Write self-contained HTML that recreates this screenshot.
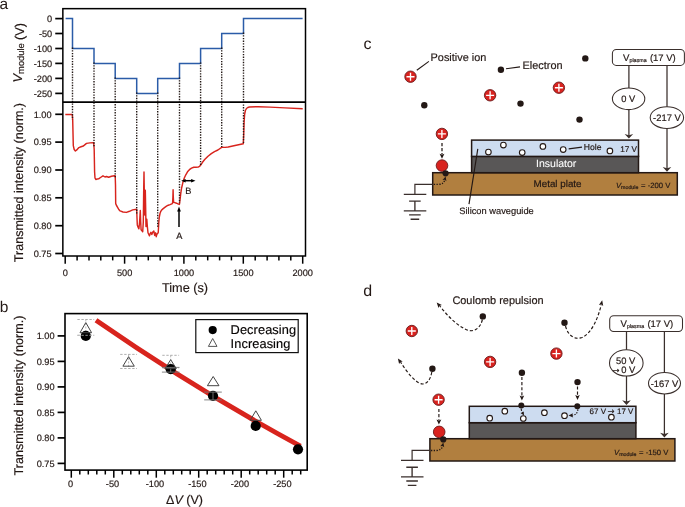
<!DOCTYPE html>
<html lang="en">
<head>
<meta charset="utf-8">
<title>Figure</title>
<style>
html,body{margin:0;padding:0;background:#fff;}
body{width:685px;height:507px;overflow:hidden;}
svg{display:block;font-family:"Liberation Sans",sans-serif;text-rendering:geometricPrecision;}
svg text{stroke:#231815;stroke-width:0.18px;}
svg text.lab{stroke:none;}
svg text.w{stroke:#fff;stroke-width:0.08px;}
</style>
</head>
<body>
<svg width="685" height="507" viewBox="0 0 685 507">
<rect width="685" height="507" fill="#fff"/>
<g id="panel-a">
<polyline fill="none" stroke="#2b5ca8" stroke-width="1.5" stroke-linejoin="miter" points="65.6,18.6 72.5,18.6 72.5,48.5 94.0,48.5 94.0,63.4 115.2,63.4 115.2,78.4 136.7,78.4 136.7,93.4 157.7,93.4 157.7,78.4 179.5,78.4 179.5,63.4 200.6,63.4 200.6,48.5 221.7,48.5 221.7,33.5 243.5,33.5 243.5,18.6 302.6,18.6"/>
<polyline fill="none" stroke="#d8241d" stroke-width="1.45" stroke-linejoin="round" stroke-linecap="butt" points="65.3,114.4 72.3,114.4 72.7,120.0 73.3,145.7 74.2,149.5 75.4,151.0 76.5,150.2 78.9,147.6 81.0,146.8 83.4,146.0 85.0,144.6 86.5,143.4 90.0,142.9 93.7,142.6 94.2,150.0 94.6,172.0 95.0,178.0 95.8,179.5 97.2,179.0 98.6,178.9 100.5,177.5 103.0,175.8 105.0,177.0 106.5,176.5 108.7,177.3 111.5,176.3 114.4,175.8 115.2,175.8 115.5,185.0 115.7,203.6 116.5,205.5 117.6,207.3 118.8,209.5 120.1,210.9 123.0,212.0 126.4,212.4 129.5,211.3 132.7,209.9 136.7,209.2 137.0,218.0 137.3,224.9 138.2,227.5 138.9,228.8 139.6,222.0 140.3,210.4 140.7,222.0 141.1,229.7 142.0,230.8 142.7,231.7 143.3,222.0 143.7,190.0 144.0,172.0 144.4,200.0 144.8,215.0 145.0,200.0 145.3,190.3 145.6,205.0 146.0,226.6 146.4,222.0 146.8,219.2 147.3,226.0 148.0,232.8 148.8,234.5 149.5,235.8 150.2,233.5 150.9,232.3 151.8,234.5 152.8,232.0 153.8,231.0 154.3,233.5 154.7,235.4 155.2,233.5 155.6,232.8 156.2,236.7 156.8,234.5 157.3,233.7 158.2,232.8 158.5,228.0 158.8,222.3 159.3,217.0 160.0,213.5 160.8,211.3 161.7,210.0 163.2,208.6 164.8,207.4 166.5,206.2 168.3,205.2 170.0,204.6 171.8,203.9 172.6,203.0 172.9,197.0 173.1,189.7 173.3,197.0 173.6,202.3 174.8,202.6 176.5,203.2 178.4,204.1 179.4,204.4 180.0,200.0 180.7,193.8 181.6,188.0 182.8,182.8 184.2,178.3 185.8,174.8 187.5,171.8 189.4,169.7 191.5,168.1 193.8,167.2 196.0,167.2 198.2,167.1 199.5,166.4 200.5,165.3 202.5,162.3 204.7,159.5 208.0,156.2 211.3,153.6 214.5,151.6 217.9,150.0 221.7,147.3 225.0,147.4 228.2,147.0 235.0,145.5 243.3,143.8 243.7,135.0 244.1,122.0 244.6,114.6 245.4,110.5 246.5,108.5 247.8,107.5 249.4,107.0 258.2,106.7 270.0,107.1 285.0,107.9 302.7,108.8"/>
<line x1="72.5" y1="47.6" x2="72.5" y2="119.8" stroke="#231815" stroke-width="1.4" stroke-dasharray="1.35 1.31"/>
<line x1="94.0" y1="62.5" x2="94.0" y2="146.3" stroke="#231815" stroke-width="1.4" stroke-dasharray="1.35 1.31"/>
<line x1="115.2" y1="77.5" x2="115.2" y2="177.7" stroke="#231815" stroke-width="1.4" stroke-dasharray="1.35 1.31"/>
<line x1="136.7" y1="92.5" x2="136.7" y2="214.4" stroke="#231815" stroke-width="1.4" stroke-dasharray="1.35 1.31"/>
<line x1="157.7" y1="92.5" x2="157.7" y2="228.0" stroke="#231815" stroke-width="1.4" stroke-dasharray="1.35 1.31"/>
<line x1="179.5" y1="77.5" x2="179.5" y2="203.3" stroke="#231815" stroke-width="1.4" stroke-dasharray="1.35 1.31"/>
<line x1="200.6" y1="62.5" x2="200.6" y2="166.0" stroke="#231815" stroke-width="1.4" stroke-dasharray="1.35 1.31"/>
<line x1="221.7" y1="47.6" x2="221.7" y2="147.0" stroke="#231815" stroke-width="1.4" stroke-dasharray="1.35 1.31"/>
<line x1="243.5" y1="32.6" x2="243.5" y2="143.8" stroke="#231815" stroke-width="1.4" stroke-dasharray="1.35 1.31"/>
<rect x="62.85" y="8.65" width="242.65" height="247.35" fill="none" stroke="#000" stroke-width="1.5"/>
<line x1="62.85" y1="102.1" x2="305.5" y2="102.1" stroke="#000" stroke-width="1.6"/>
<line x1="55.25" y1="18.6" x2="62.85" y2="18.6" stroke="#000" stroke-width="1.7"/>
<text x="52.2" y="21.9" font-size="9.2" text-anchor="end" fill="#231815">0</text>
<line x1="55.25" y1="33.5" x2="62.85" y2="33.5" stroke="#000" stroke-width="1.7"/>
<text x="52.2" y="36.8" font-size="9.2" text-anchor="end" fill="#231815">-50</text>
<line x1="55.25" y1="48.5" x2="62.85" y2="48.5" stroke="#000" stroke-width="1.7"/>
<text x="52.2" y="51.8" font-size="9.2" text-anchor="end" fill="#231815">-100</text>
<line x1="55.25" y1="63.4" x2="62.85" y2="63.4" stroke="#000" stroke-width="1.7"/>
<text x="52.2" y="66.7" font-size="9.2" text-anchor="end" fill="#231815">-150</text>
<line x1="55.25" y1="78.4" x2="62.85" y2="78.4" stroke="#000" stroke-width="1.7"/>
<text x="52.2" y="81.7" font-size="9.2" text-anchor="end" fill="#231815">-200</text>
<line x1="55.25" y1="93.4" x2="62.85" y2="93.4" stroke="#000" stroke-width="1.7"/>
<text x="52.2" y="96.7" font-size="9.2" text-anchor="end" fill="#231815">-250</text>
<line x1="55.25" y1="114.3" x2="62.85" y2="114.3" stroke="#000" stroke-width="1.7"/>
<text x="51.6" y="117.6" font-size="9.2" text-anchor="end" fill="#231815">1.00</text>
<line x1="55.25" y1="142.1" x2="62.85" y2="142.1" stroke="#000" stroke-width="1.7"/>
<text x="51.6" y="145.4" font-size="9.2" text-anchor="end" fill="#231815">0.95</text>
<line x1="55.25" y1="170.0" x2="62.85" y2="170.0" stroke="#000" stroke-width="1.7"/>
<text x="51.6" y="173.3" font-size="9.2" text-anchor="end" fill="#231815">0.90</text>
<line x1="55.25" y1="197.8" x2="62.85" y2="197.8" stroke="#000" stroke-width="1.7"/>
<text x="51.6" y="201.1" font-size="9.2" text-anchor="end" fill="#231815">0.85</text>
<line x1="55.25" y1="225.7" x2="62.85" y2="225.7" stroke="#000" stroke-width="1.7"/>
<text x="51.6" y="229.0" font-size="9.2" text-anchor="end" fill="#231815">0.80</text>
<line x1="55.25" y1="253.5" x2="62.85" y2="253.5" stroke="#000" stroke-width="1.7"/>
<text x="51.6" y="256.8" font-size="9.2" text-anchor="end" fill="#231815">0.75</text>
<line x1="65.2" y1="256.0" x2="65.2" y2="263.7" stroke="#000" stroke-width="1.5"/>
<text x="65.2" y="276.2" font-size="9.2" text-anchor="middle" fill="#231815">0</text>
<line x1="77.1" y1="256.0" x2="77.1" y2="260.4" stroke="#000" stroke-width="1.5"/>
<line x1="89.0" y1="256.0" x2="89.0" y2="260.4" stroke="#000" stroke-width="1.5"/>
<line x1="100.8" y1="256.0" x2="100.8" y2="260.4" stroke="#000" stroke-width="1.5"/>
<line x1="112.7" y1="256.0" x2="112.7" y2="260.4" stroke="#000" stroke-width="1.5"/>
<line x1="124.6" y1="256.0" x2="124.6" y2="263.7" stroke="#000" stroke-width="1.5"/>
<text x="124.6" y="276.2" font-size="9.2" text-anchor="middle" fill="#231815">500</text>
<line x1="136.4" y1="256.0" x2="136.4" y2="260.4" stroke="#000" stroke-width="1.5"/>
<line x1="148.3" y1="256.0" x2="148.3" y2="260.4" stroke="#000" stroke-width="1.5"/>
<line x1="160.2" y1="256.0" x2="160.2" y2="260.4" stroke="#000" stroke-width="1.5"/>
<line x1="172.1" y1="256.0" x2="172.1" y2="260.4" stroke="#000" stroke-width="1.5"/>
<line x1="183.9" y1="256.0" x2="183.9" y2="263.7" stroke="#000" stroke-width="1.5"/>
<text x="183.9" y="276.2" font-size="9.2" text-anchor="middle" fill="#231815">1000</text>
<line x1="195.8" y1="256.0" x2="195.8" y2="260.4" stroke="#000" stroke-width="1.5"/>
<line x1="207.7" y1="256.0" x2="207.7" y2="260.4" stroke="#000" stroke-width="1.5"/>
<line x1="219.6" y1="256.0" x2="219.6" y2="260.4" stroke="#000" stroke-width="1.5"/>
<line x1="231.4" y1="256.0" x2="231.4" y2="260.4" stroke="#000" stroke-width="1.5"/>
<line x1="243.3" y1="256.0" x2="243.3" y2="263.7" stroke="#000" stroke-width="1.5"/>
<text x="243.3" y="276.2" font-size="9.2" text-anchor="middle" fill="#231815">1500</text>
<line x1="255.2" y1="256.0" x2="255.2" y2="260.4" stroke="#000" stroke-width="1.5"/>
<line x1="267.1" y1="256.0" x2="267.1" y2="260.4" stroke="#000" stroke-width="1.5"/>
<line x1="278.9" y1="256.0" x2="278.9" y2="260.4" stroke="#000" stroke-width="1.5"/>
<line x1="290.8" y1="256.0" x2="290.8" y2="260.4" stroke="#000" stroke-width="1.5"/>
<line x1="302.7" y1="256.0" x2="302.7" y2="263.7" stroke="#000" stroke-width="1.5"/>
<text x="302.7" y="276.2" font-size="9.2" text-anchor="middle" fill="#231815">2000</text>
<text x="185.0" y="292.3" font-size="12.7" text-anchor="middle" fill="#231815">Time (s)</text>
<g transform="translate(22.1,52.75) rotate(-90)"><text x="-29.72" y="0.00" font-size="12.8" font-style="italic" fill="#231815">V</text><text x="-21.18" y="2.00" font-size="9.4" fill="#231815">module</text><text x="12.65" y="1.60" font-size="12.8" fill="#231815">(V)</text></g>
<text transform="translate(22.5,182.6) rotate(-90)" font-size="12.55" text-anchor="middle" fill="#231815">Transmitted intensity (norm.)</text>
<line x1="179.0" y1="210" x2="179.0" y2="227.1" stroke="#000" stroke-width="1.5"/>
<polygon points="179.0,206.6 177.1,211.6 180.9,211.6" fill="#000"/>
<text x="179.4" y="238.9" font-size="9.2" text-anchor="middle" fill="#231815">A</text>
<line x1="184" y1="180.7" x2="192.6" y2="180.7" stroke="#000" stroke-width="1.5"/>
<polygon points="181.2,180.7 185.6,178.9 185.6,182.5" fill="#000"/>
<polygon points="195.5,180.7 191.1,178.9 191.1,182.5" fill="#000"/>
<text x="188.3" y="193.5" font-size="9.2" text-anchor="middle" fill="#231815">B</text>
<text class="lab" x="-0.6" y="8.8" font-size="15.5" fill="#231815">a</text>
</g>
<g id="panel-b">
<path d="M96,320.3 Q198.25,391.1 300.5,446.15" fill="none" stroke="#d8241d" stroke-width="4.9"/>
<line x1="77.39999999999999" y1="319.5" x2="94.2" y2="319.5" stroke="#9a9a9a" stroke-width="0.8" stroke-dasharray="2.4 1.6"/><line x1="77.39999999999999" y1="335.3" x2="94.2" y2="335.3" stroke="#9a9a9a" stroke-width="0.8" stroke-dasharray="2.4 1.6"/><line x1="85.8" y1="319.5" x2="85.8" y2="335.3" stroke="#9a9a9a" stroke-width="0.7" stroke-dasharray="2 1.5"/>
<line x1="120.19999999999999" y1="354.4" x2="137.0" y2="354.4" stroke="#9a9a9a" stroke-width="0.8" stroke-dasharray="2.4 1.6"/><line x1="120.19999999999999" y1="368.5" x2="137.0" y2="368.5" stroke="#9a9a9a" stroke-width="0.8" stroke-dasharray="2.4 1.6"/><line x1="128.6" y1="354.4" x2="128.6" y2="368.5" stroke="#9a9a9a" stroke-width="0.7" stroke-dasharray="2 1.5"/>
<line x1="162.29999999999998" y1="355.3" x2="179.1" y2="355.3" stroke="#9a9a9a" stroke-width="0.8" stroke-dasharray="2.4 1.6"/><line x1="162.29999999999998" y1="368.0" x2="179.1" y2="368.0" stroke="#9a9a9a" stroke-width="0.8" stroke-dasharray="2.4 1.6"/><line x1="170.7" y1="355.3" x2="170.7" y2="368.0" stroke="#9a9a9a" stroke-width="0.7" stroke-dasharray="2 1.5"/>
<circle cx="85.8" cy="335.9" r="5.1" fill="#000"/>
<circle cx="170.7" cy="369.2" r="5.1" fill="#000"/>
<circle cx="213.0" cy="395.8" r="5.1" fill="#000"/>
<circle cx="255.7" cy="425.9" r="5.1" fill="#000"/>
<circle cx="298.0" cy="449.3" r="5.1" fill="#000"/>
<line x1="161.89999999999998" y1="367.4" x2="179.5" y2="367.4" stroke="#777" stroke-width="0.9"/><line x1="161.89999999999998" y1="372.1" x2="179.5" y2="372.1" stroke="#777" stroke-width="0.9"/><line x1="170.7" y1="367.4" x2="170.7" y2="372.1" stroke="#777" stroke-width="0.9"/>
<line x1="204.2" y1="392.1" x2="221.8" y2="392.1" stroke="#777" stroke-width="0.9"/><line x1="204.2" y1="399.9" x2="221.8" y2="399.9" stroke="#777" stroke-width="0.9"/><line x1="213.0" y1="392.1" x2="213.0" y2="399.9" stroke="#777" stroke-width="0.9"/>
<line x1="77.4" y1="335.3" x2="94.2" y2="335.3" stroke="#bbb" stroke-width="0.8" stroke-dasharray="2.4 1.6"/>
<polygon points="85.8,322.6 80.0,332.7 91.6,332.7" fill="none" stroke="#444" stroke-width="1"/>
<polygon points="128.6,356.7 122.89999999999999,366.2 134.29999999999998,366.2" fill="none" stroke="#444" stroke-width="1"/>
<polygon points="170.7,359.7 165.1,368.6 176.29999999999998,368.6" fill="none" stroke="#444" stroke-width="1"/>
<polygon points="213.2,376.5 207.39999999999998,385.7 219.0,385.7" fill="none" stroke="#444" stroke-width="1"/>
<polygon points="255.8,410.8 250.20000000000002,420.3 261.40000000000003,420.3" fill="none" stroke="#444" stroke-width="1"/>
<rect x="65.0" y="313.6" width="242.2" height="156.5" fill="none" stroke="#000" stroke-width="1.6"/>
<line x1="57.6" y1="335.9" x2="65.0" y2="335.9" stroke="#000" stroke-width="1.7"/>
<text x="54.6" y="339.2" font-size="9.2" text-anchor="end" fill="#231815">1.00</text>
<line x1="57.6" y1="361.4" x2="65.0" y2="361.4" stroke="#000" stroke-width="1.7"/>
<text x="54.6" y="364.7" font-size="9.2" text-anchor="end" fill="#231815">0.95</text>
<line x1="57.6" y1="386.9" x2="65.0" y2="386.9" stroke="#000" stroke-width="1.7"/>
<text x="54.6" y="390.2" font-size="9.2" text-anchor="end" fill="#231815">0.90</text>
<line x1="57.6" y1="412.4" x2="65.0" y2="412.4" stroke="#000" stroke-width="1.7"/>
<text x="54.6" y="415.7" font-size="9.2" text-anchor="end" fill="#231815">0.85</text>
<line x1="57.6" y1="437.9" x2="65.0" y2="437.9" stroke="#000" stroke-width="1.7"/>
<text x="54.6" y="441.2" font-size="9.2" text-anchor="end" fill="#231815">0.80</text>
<line x1="57.6" y1="463.4" x2="65.0" y2="463.4" stroke="#000" stroke-width="1.7"/>
<text x="54.6" y="466.7" font-size="9.2" text-anchor="end" fill="#231815">0.75</text>
<line x1="71.3" y1="470.1" x2="71.3" y2="477.70000000000005" stroke="#000" stroke-width="1.5"/>
<text x="70.5" y="487.3" font-size="9.2" text-anchor="middle" fill="#231815">0</text>
<line x1="79.8" y1="470.1" x2="79.8" y2="474.5" stroke="#000" stroke-width="1.5"/>
<line x1="88.3" y1="470.1" x2="88.3" y2="474.5" stroke="#000" stroke-width="1.5"/>
<line x1="96.8" y1="470.1" x2="96.8" y2="474.5" stroke="#000" stroke-width="1.5"/>
<line x1="105.3" y1="470.1" x2="105.3" y2="474.5" stroke="#000" stroke-width="1.5"/>
<line x1="113.8" y1="470.1" x2="113.8" y2="477.70000000000005" stroke="#000" stroke-width="1.5"/>
<text x="112.5" y="487.3" font-size="9.2" text-anchor="middle" fill="#231815">-50</text>
<line x1="122.3" y1="470.1" x2="122.3" y2="474.5" stroke="#000" stroke-width="1.5"/>
<line x1="130.8" y1="470.1" x2="130.8" y2="474.5" stroke="#000" stroke-width="1.5"/>
<line x1="139.3" y1="470.1" x2="139.3" y2="474.5" stroke="#000" stroke-width="1.5"/>
<line x1="147.8" y1="470.1" x2="147.8" y2="474.5" stroke="#000" stroke-width="1.5"/>
<line x1="156.3" y1="470.1" x2="156.3" y2="477.70000000000005" stroke="#000" stroke-width="1.5"/>
<text x="155.0" y="487.3" font-size="9.2" text-anchor="middle" fill="#231815">-100</text>
<line x1="164.8" y1="470.1" x2="164.8" y2="474.5" stroke="#000" stroke-width="1.5"/>
<line x1="173.3" y1="470.1" x2="173.3" y2="474.5" stroke="#000" stroke-width="1.5"/>
<line x1="181.7" y1="470.1" x2="181.7" y2="474.5" stroke="#000" stroke-width="1.5"/>
<line x1="190.2" y1="470.1" x2="190.2" y2="474.5" stroke="#000" stroke-width="1.5"/>
<line x1="198.7" y1="470.1" x2="198.7" y2="477.70000000000005" stroke="#000" stroke-width="1.5"/>
<text x="197.4" y="487.3" font-size="9.2" text-anchor="middle" fill="#231815">-150</text>
<line x1="207.2" y1="470.1" x2="207.2" y2="474.5" stroke="#000" stroke-width="1.5"/>
<line x1="215.7" y1="470.1" x2="215.7" y2="474.5" stroke="#000" stroke-width="1.5"/>
<line x1="224.2" y1="470.1" x2="224.2" y2="474.5" stroke="#000" stroke-width="1.5"/>
<line x1="232.7" y1="470.1" x2="232.7" y2="474.5" stroke="#000" stroke-width="1.5"/>
<line x1="241.2" y1="470.1" x2="241.2" y2="477.70000000000005" stroke="#000" stroke-width="1.5"/>
<text x="239.9" y="487.3" font-size="9.2" text-anchor="middle" fill="#231815">-200</text>
<line x1="249.7" y1="470.1" x2="249.7" y2="474.5" stroke="#000" stroke-width="1.5"/>
<line x1="258.2" y1="470.1" x2="258.2" y2="474.5" stroke="#000" stroke-width="1.5"/>
<line x1="266.7" y1="470.1" x2="266.7" y2="474.5" stroke="#000" stroke-width="1.5"/>
<line x1="275.2" y1="470.1" x2="275.2" y2="474.5" stroke="#000" stroke-width="1.5"/>
<line x1="283.7" y1="470.1" x2="283.7" y2="477.70000000000005" stroke="#000" stroke-width="1.5"/>
<text x="282.4" y="487.3" font-size="9.2" text-anchor="middle" fill="#231815">-250</text>
<line x1="292.2" y1="470.1" x2="292.2" y2="474.5" stroke="#000" stroke-width="1.5"/>
<line x1="300.7" y1="470.1" x2="300.7" y2="474.5" stroke="#000" stroke-width="1.5"/>
<text x="184.5" y="504.3" font-size="12.5" text-anchor="middle" fill="#231815">Δ<tspan font-style="italic">V</tspan> (V)</text>
<text transform="translate(22.6,395.5) rotate(-90)" font-size="12.6" text-anchor="middle" fill="#231815">Transmitted intensity (norm.)</text>
<rect x="195.8" y="319.6" width="102.4" height="33" fill="#fff" stroke="#111" stroke-width="1.2"/>
<circle cx="212.7" cy="330.1" r="4.1" fill="#000"/>
<polygon points="212.7,338.5 208.4,346.4 217.0,346.4" fill="none" stroke="#444" stroke-width="0.9"/>
<text x="230.6" y="334.2" font-size="12.8" fill="#000" stroke="#000" stroke-width="0.25" letter-spacing="0.08">Decreasing</text>
<text x="230.6" y="347.9" font-size="12.8" fill="#000" stroke="#000" stroke-width="0.25" letter-spacing="0.08">Increasing</text>
<text class="lab" x="-0.2" y="311.6" font-size="15.5" fill="#231815">b</text>
</g>
<g id="panel-c">
<text class="lab" x="363.5" y="48.8" font-size="16" fill="#231815">c</text>
<text x="430.6" y="60.6" font-size="10.9" fill="#231815">Positive ion</text>
<line x1="428.9" y1="61.4" x2="416.8" y2="70.2" stroke="#231815" stroke-width="1.1"/>
<text x="522.6" y="69.4" font-size="10.9" fill="#231815">Electron</text>
<line x1="506" y1="68.8" x2="520" y2="66.9" stroke="#231815" stroke-width="1.1"/>
<circle cx="410.5" cy="76.7" r="5.7" fill="#d9231f" stroke="#6b1a1b" stroke-width="0.9"/><path d="M406.5,76.7H414.5M410.5,72.7V80.7" stroke="#fff" stroke-width="1.35" fill="none"/>
<circle cx="490.1" cy="95.3" r="5.7" fill="#d9231f" stroke="#6b1a1b" stroke-width="0.9"/><path d="M486.1,95.3H494.1M490.1,91.3V99.3" stroke="#fff" stroke-width="1.35" fill="none"/>
<circle cx="441.9" cy="133.9" r="5.7" fill="#d9231f" stroke="#6b1a1b" stroke-width="0.9"/><path d="M437.9,133.9H445.9M441.9,129.9V137.9" stroke="#fff" stroke-width="1.35" fill="none"/>
<circle cx="558.9" cy="87.7" r="5.7" fill="#d9231f" stroke="#6b1a1b" stroke-width="0.9"/><path d="M554.9,87.7H562.9M558.9,83.7V91.7" stroke="#fff" stroke-width="1.35" fill="none"/>
<circle cx="424.3" cy="105.3" r="3.2" fill="#231815"/>
<circle cx="500.9" cy="69.7" r="3.2" fill="#231815"/>
<circle cx="585.3" cy="58.4" r="3.2" fill="#231815"/>
<circle cx="520.5" cy="103.6" r="3.2" fill="#231815"/>
<circle cx="579.5" cy="119.6" r="3.2" fill="#231815"/>
<path d="M628.9,65 V136.5 M667.0,65 V169.5" stroke="#3a2f2c" stroke-width="1.25" fill="none"/>
<rect x="612.4" y="49.5" width="72.0" height="15.9" rx="4" fill="#fff" stroke="#3a2f2c" stroke-width="1.05"/>
<text x="623.10" y="61.20" font-size="9.6" fill="#231815">V</text><text x="629.50" y="62.40" font-size="5.3" fill="#231815">plasma</text><text x="649.89" y="61.20" font-size="9.5" fill="#231815">(17 V)</text>
<ellipse cx="628.6" cy="98.8" rx="16.2" ry="10.8" fill="#fff" stroke="#3a2f2c" stroke-width="1.05"/>
<text x="628.2" y="102.2" font-size="9.3" text-anchor="middle" fill="#231815">0 V</text>
<ellipse cx="666.9" cy="117.6" rx="16.7" ry="10.9" fill="#fff" stroke="#3a2f2c" stroke-width="1.05"/>
<text x="666.9" y="121.1" font-size="9.4" text-anchor="middle" fill="#231815">-217 V</text>
<polygon points="628.9,138.6 624.6,134.0 628.9,135.3 633.2,134.0" fill="#3a2f2c"/>
<polygon points="667.0,171.7 662.7,166.9 667.0,168.2 671.3,166.9" fill="#3a2f2c"/>
<rect x="432.7" y="172.7" width="244.6" height="22.3" fill="#b17f3f" stroke="#231815" stroke-width="1.5"/>
<rect x="471.6" y="156.4" width="166.9" height="16.3" fill="#595757" stroke="#231815" stroke-width="1.5"/>
<rect x="471.6" y="140.1" width="166.9" height="16.3" fill="#cddcf0" stroke="#231815" stroke-width="1.5"/>
<circle cx="503.4" cy="145.1" r="2.8" fill="#fff" stroke="#231815" stroke-width="1.1"/>
<circle cx="488.4" cy="152.1" r="2.8" fill="#fff" stroke="#231815" stroke-width="1.1"/>
<circle cx="522.2" cy="152.6" r="2.8" fill="#fff" stroke="#231815" stroke-width="1.1"/>
<circle cx="542.9" cy="146.4" r="2.8" fill="#fff" stroke="#231815" stroke-width="1.1"/>
<circle cx="563.2" cy="149.6" r="2.8" fill="#fff" stroke="#231815" stroke-width="1.1"/>
<circle cx="609.9" cy="150.9" r="2.8" fill="#fff" stroke="#231815" stroke-width="1.1"/>
<line x1="568.7" y1="148.9" x2="582" y2="147.1" stroke="#231815" stroke-width="1.1"/>
<text x="583.8" y="149.7" font-size="8.6" fill="#231815">Hole</text>
<text x="620.2" y="151.8" font-size="8.2" fill="#231815">17 V</text>
<text class="w" x="536.1" y="167.3" font-size="10.5" fill="#fff">Insulator</text>
<text x="533.6" y="187.2" font-size="9.8" fill="#231815">Metal plate</text>
<text x="615.90" y="187.60" font-size="7.7" font-style="italic" fill="#231815">V</text><text x="621.04" y="188.90" font-size="5.3" fill="#231815">module</text><text x="641.02" y="187.60" font-size="7.7" fill="#231815">= -200 V</text>
<line x1="477.8" y1="148.9" x2="469" y2="204.1" stroke="#231815" stroke-width="1.15"/>
<text x="459.3" y="214.0" font-size="9.3" fill="#231815">Silicon waveguide</text>
<line x1="442" y1="143.1" x2="442" y2="154.5" stroke="#231815" stroke-width="1.25" stroke-dasharray="3.2 1.8"/>
<polygon points="442.0,158.8 439.6,153.8 442.0,154.8 444.4,153.8" fill="#231815"/>
<circle cx="442" cy="165.6" r="5.8" fill="#d9231f" stroke="#6b1a1b" stroke-width="0.9"/>
<path d="M433.8,184.3 H438.5 Q443.8,184.3 444.7,180.0" fill="none" stroke="#231815" stroke-width="1.3" stroke-dasharray="1.3 1.4"/>
<polygon points="445.6,176.4 446.4,181.2 444.7,179.8 442.5,180.1" fill="#231815"/>
<circle cx="445.6" cy="173.3" r="3.1" fill="#231815"/>
<path d="M432.7,184.3H414.9V194.3" fill="none" stroke="#3a2f2c" stroke-width="1.2"/><path d="M403.79999999999995,194.3H426.29999999999995M409.09999999999997,201.10000000000002H420.7M414.9,201.10000000000002V210.8M403.79999999999995,210.8H426.29999999999995M409.09999999999997,214.9H420.7M410.59999999999997,219.20000000000002H419.2" fill="none" stroke="#3a2f2c" stroke-width="1.35"/>
</g>
<g id="panel-d">
<text class="lab" x="363.2" y="295.7" font-size="16" fill="#231815">d</text>
<text x="452.4" y="303.9" font-size="10.95" fill="#231815">Coulomb repulsion</text>
<circle cx="411.8" cy="331.0" r="5.7" fill="#d9231f" stroke="#6b1a1b" stroke-width="0.9"/><path d="M407.8,331.0H415.8M411.8,327.0V335.0" stroke="#fff" stroke-width="1.35" fill="none"/>
<circle cx="490.1" cy="361.9" r="5.7" fill="#d9231f" stroke="#6b1a1b" stroke-width="0.9"/><path d="M486.1,361.9H494.1M490.1,357.9V365.9" stroke="#fff" stroke-width="1.35" fill="none"/>
<circle cx="556.4" cy="353.6" r="5.7" fill="#d9231f" stroke="#6b1a1b" stroke-width="0.9"/><path d="M552.4,353.6H560.4M556.4,349.6V357.6" stroke="#fff" stroke-width="1.35" fill="none"/>
<circle cx="438.6" cy="399.7" r="5.7" fill="#d9231f" stroke="#6b1a1b" stroke-width="0.9"/><path d="M434.6,399.7H442.6M438.6,395.7V403.7" stroke="#fff" stroke-width="1.35" fill="none"/>
<circle cx="482.8" cy="316.4" r="3.2" fill="#231815"/>
<circle cx="432.4" cy="368.7" r="3.2" fill="#231815"/>
<circle cx="564.5" cy="322.7" r="3.2" fill="#231815"/>
<circle cx="521.9" cy="372.7" r="3.2" fill="#231815"/>
<circle cx="577.5" cy="382.1" r="3.2" fill="#231815"/>
<path d="M482.4,319.5 C480,330 472,333 465,329 C455,324 446,314 439.5,305.5" fill="none" stroke="#231815" stroke-width="1.15" stroke-dasharray="3.1 2.0"/>
<polygon points="436.7,302.4 441.9,305.1 439.5,305.7 438.5,308.0" fill="#231815"/>
<path d="M431.8,372 C430,382 425,386 419,383 C411,378 405,369 400.5,362" fill="none" stroke="#231815" stroke-width="1.15" stroke-dasharray="3.1 2.0"/>
<polygon points="397.9,358.4 402.7,361.6 400.3,362.0 399.1,364.1" fill="#231815"/>
<path d="M565.5,326 C568,336 575,340 582,337.5 C592,333 598,318 601.2,305" fill="none" stroke="#231815" stroke-width="1.15" stroke-dasharray="3.1 2.0"/>
<polygon points="602.2,300.2 603.2,305.9 601.3,304.4 598.9,305.0" fill="#231815"/>
<path d="M626.5,331 V403 M664.4,331 V435.5" stroke="#3a2f2c" stroke-width="1.25" fill="none"/>
<rect x="609.7" y="315.7" width="72.8" height="15.8" rx="4" fill="#fff" stroke="#3a2f2c" stroke-width="1.05"/>
<text x="620.60" y="327.10" font-size="9.6" fill="#231815">V</text><text x="627.00" y="328.30" font-size="5.3" fill="#231815">plasma</text><text x="647.39" y="327.10" font-size="9.5" fill="#231815">(17 V)</text>
<ellipse cx="626.3" cy="362.9" rx="16.8" ry="13.2" fill="#fff" stroke="#3a2f2c" stroke-width="1.05"/>
<text x="625.7" y="363.6" font-size="9.4" text-anchor="middle" fill="#231815">50 V</text>
<text x="612.8" y="373.0" font-size="9.4" fill="#231815"><tspan font-size="8" font-family="DejaVu Sans, Liberation Sans, sans-serif">→</tspan><tspan x="621.3">0 V</tspan></text>
<ellipse cx="664.5" cy="383.2" rx="16" ry="10.7" fill="#fff" stroke="#3a2f2c" stroke-width="1.05"/>
<text x="664.5" y="386.7" font-size="9.4" text-anchor="middle" fill="#231815">-167 V</text>
<polygon points="626.5,405.0 622.2,400.3 626.5,401.6 630.8,400.3" fill="#3a2f2c"/>
<polygon points="664.4,437.6 660.1,432.8 664.4,434.1 668.7,432.8" fill="#3a2f2c"/>
<rect x="429.9" y="438.7" width="245.0" height="22.3" fill="#b17f3f" stroke="#231815" stroke-width="1.5"/>
<rect x="469.3" y="422.7" width="166.6" height="16" fill="#595757" stroke="#231815" stroke-width="1.5"/>
<rect x="469.3" y="406.3" width="166.6" height="16.4" fill="#cddcf0" stroke="#231815" stroke-width="1.5"/>
<circle cx="504.8" cy="411.2" r="2.8" fill="#fff" stroke="#231815" stroke-width="1.1"/>
<circle cx="489.7" cy="418.2" r="2.8" fill="#fff" stroke="#231815" stroke-width="1.1"/>
<circle cx="523.3" cy="418.5" r="2.8" fill="#fff" stroke="#231815" stroke-width="1.1"/>
<circle cx="544.4" cy="412.7" r="2.8" fill="#fff" stroke="#231815" stroke-width="1.1"/>
<circle cx="564.5" cy="415.7" r="2.8" fill="#fff" stroke="#231815" stroke-width="1.1"/>
<circle cx="611.4" cy="417.2" r="2.8" fill="#fff" stroke="#231815" stroke-width="1.1"/>
<text x="589.6" y="413.9" font-size="8.0" fill="#231815">67 V <tspan x="607.4" font-size="8.4" font-family="DejaVu Sans, Liberation Sans, sans-serif">→</tspan><tspan x="617.0" font-size="7.9">17 V</tspan></text>
<text x="614.00" y="454.80" font-size="7.7" font-style="italic" fill="#231815">V</text><text x="619.14" y="456.10" font-size="5.3" fill="#231815">module</text><text x="639.12" y="454.80" font-size="7.7" fill="#231815">= -150 V</text>
<line x1="521.9" y1="377" x2="521.9" y2="396" stroke="#231815" stroke-width="1.15" stroke-dasharray="3.1 2.0"/>
<polygon points="521.9,400.6 519.6,395.6 521.9,396.6 524.2,395.6" fill="#231815"/>
<line x1="577.5" y1="386.5" x2="577.5" y2="395.5" stroke="#231815" stroke-width="1.15" stroke-dasharray="3.1 2.0"/>
<polygon points="577.5,400.1 575.2,395.1 577.5,396.1 579.8,395.1" fill="#231815"/>
<circle cx="521.3" cy="405.4" r="3.0" fill="#231815"/>
<circle cx="577.3" cy="406.2" r="3.0" fill="#231815"/>
<path d="M521.2,408.6 Q521.4,411.6 522.9,413.2" fill="none" stroke="#231815" stroke-width="1.1" stroke-dasharray="2 1.2"/>
<polygon points="524.0,415.6 520.5,412.9 522.5,412.8 523.7,411.2" fill="#231815"/>
<path d="M577.9,409.4 Q577.4,414.8 572.2,415.3" fill="none" stroke="#231815" stroke-width="1.2" stroke-dasharray="1.4 1.3"/>
<polygon points="568.5,415.6 572.9,413.2 572.2,415.3 573.2,417.4" fill="#231815"/>
<line x1="438.9" y1="409" x2="438.9" y2="420" stroke="#231815" stroke-width="1.15" stroke-dasharray="3.1 2.0"/>
<polygon points="438.9,424.6 436.5,419.6 438.9,420.6 441.3,419.6" fill="#231815"/>
<circle cx="439.2" cy="431.9" r="5.8" fill="#d9231f" stroke="#6b1a1b" stroke-width="0.9"/>
<path d="M431,450.5 H436 Q441.6,450.4 442.6,446.0" fill="none" stroke="#231815" stroke-width="1.3" stroke-dasharray="1.3 1.4"/>
<polygon points="443.4,442.5 444.2,447.3 442.5,445.9 440.3,446.2" fill="#231815"/>
<circle cx="443.3" cy="439.4" r="3.1" fill="#231815"/>
<path d="M429.7,450.4H412.1V460.4" fill="none" stroke="#3a2f2c" stroke-width="1.2"/><path d="M401.0,460.4H423.5M406.3,467.2H417.90000000000003M412.1,467.2V476.9M401.0,476.9H423.5M406.3,481.0H417.90000000000003M407.8,485.29999999999995H416.40000000000003" fill="none" stroke="#3a2f2c" stroke-width="1.35"/>
</g>
</svg>
</body>
</html>
